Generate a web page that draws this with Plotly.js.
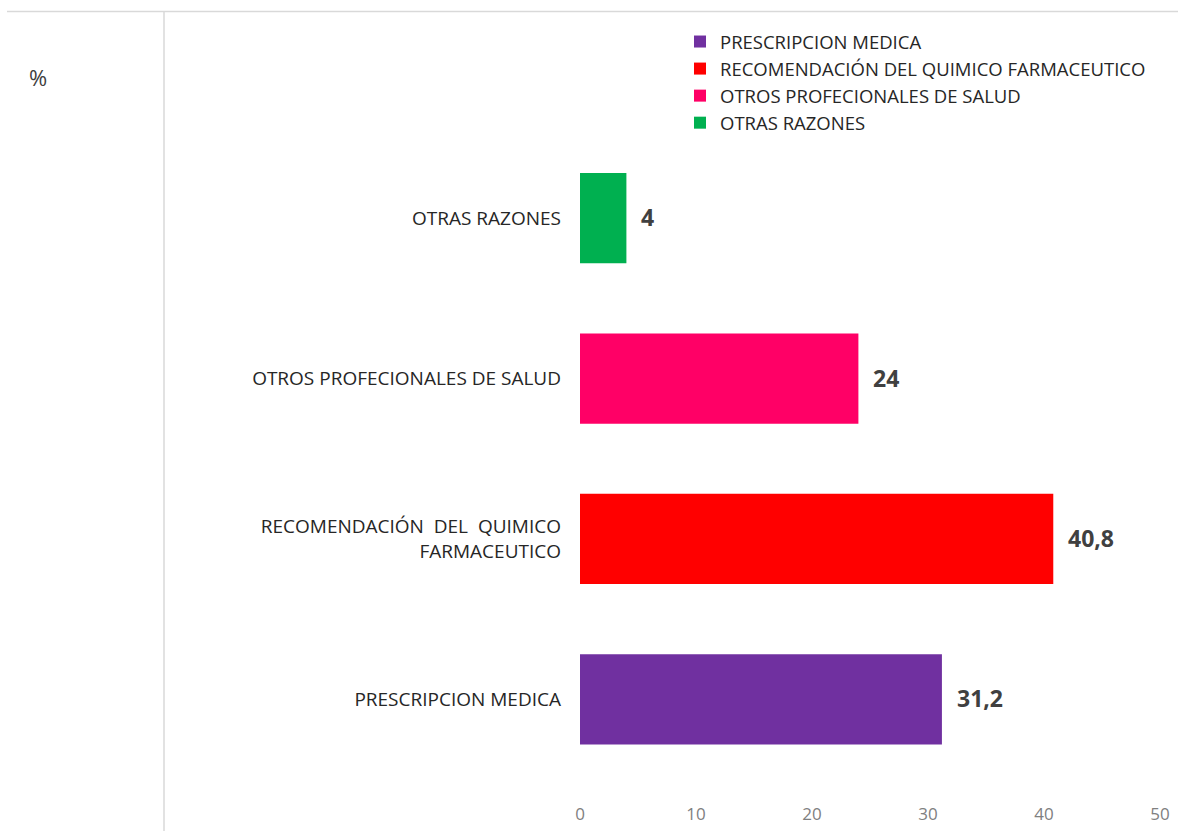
<!DOCTYPE html>
<html>
<head>
<meta charset="utf-8">
<script src="https://cdn.plot.ly/plotly-3.0.1.min.js"></script>
<style>html,body{margin:0;padding:0;background:#fff;}#chart{width:1178px;height:831px;}</style>
</head>
<body>
<div id="chart"></div>
<script>
// ---- data ----
const categories = [
  'PRESCRIPCION MEDICA',
  'RECOMENDACIÓN DEL QUIMICO FARMACEUTICO',
  'OTROS PROFECIONALES DE SALUD',
  'OTRAS RAZONES'
];
const categoryTickLabels = [
  'PRESCRIPCION MEDICA',
  'RECOMENDACIÓN  DEL  QUIMICO<br>FARMACEUTICO',
  'OTROS PROFECIONALES DE SALUD',
  'OTRAS RAZONES'
];
const values = [31.2, 40.8, 24, 4];
const valueLabels = ['31,2', '40,8', '24', '4'];
const xTickValues = [0, 10, 20, 30, 40, 50];
const xTickLabels = ['0', '10', '20', '30', '40', '50'];
const colors = ['#7030A0', '#FF0000', '#FF0066', '#00B050'];

// ---- layout helpers (pixel -> paper) ----
const W = 1178, H = 831;
const M = {l: 580, r: 18, t: 138, b: 29};
const PW = W - M.l - M.r, PH = H - M.t - M.b;
const px = x => (x - M.l) / PW;
const py = y => (H - M.b - y) / PH;
const FONT = 'Open Sans, sans-serif';

const traces = categories.map((c, i) => ({
  type: 'bar',
  orientation: 'h',
  name: c,
  x: [values[i]],
  y: [categoryTickLabels[i]],
  marker: {color: colors[i]},
  width: 0.5625,
  hoverinfo: 'x+name'
}));

const annotations = values.map((v, i) => ({
  x: v, y: categoryTickLabels[i], xref: 'x', yref: 'y',
  text: '<b>' + valueLabels[i] + '</b>',
  showarrow: false, xanchor: 'left', yanchor: 'middle', xshift: 13, yshift: 1,
  font: {family: FONT, size: 23, color: '#404040'}
}));

const layout = {
  width: W, height: H,
  margin: M,
  paper_bgcolor: '#fff', plot_bgcolor: '#fff',
  barmode: 'overlay',
  showlegend: true,
  font: {family: FONT, color: '#404040'},
  title: {
    text: '%', xref: 'container', yref: 'container',
    x: 38 / W, y: 1 - 78 / H, xanchor: 'center', yanchor: 'middle',
    font: {family: FONT, size: 22, color: '#404040'}
  },
  legend: {
    x: px(680), y: py(23), xanchor: 'left', yanchor: 'top',
    traceorder: 'normal', bgcolor: 'rgba(0,0,0,0)',
    font: {family: FONT, size: 18.5, color: '#262626'},
    tracegroupgap: 0
  },
  xaxis: {
    range: [0, 50], tickvals: xTickValues, ticktext: xTickLabels,
    showgrid: false, zeroline: false, showline: false, ticks: '',
    tickfont: {family: FONT, size: 17, color: '#808080'},
    fixedrange: true
  },
  yaxis: {
    type: 'category', categoryorder: 'array', categoryarray: categoryTickLabels,
    range: [-0.64, 3.5],
    showgrid: false, zeroline: false, showline: false, ticks: '',
    ticklabelstandoff: 18,
    tickfont: {family: FONT, size: 19, color: '#262626'},
    fixedrange: true
  },
  shapes: [
    {type: 'line', xref: 'paper', yref: 'paper', x0: px(7), x1: px(W), y0: py(11.5), y1: py(11.5),
     line: {color: '#d9d9d9', width: 1.5}},
    {type: 'line', xref: 'paper', yref: 'paper', x0: px(164), x1: px(164), y0: py(11.5), y1: py(H),
     line: {color: '#d9d9d9', width: 1.5}}
  ],
  annotations: annotations
};

Plotly.newPlot('chart', traces, layout, {displayModeBar: false, staticPlot: true});
</script>
</body>
</html>
